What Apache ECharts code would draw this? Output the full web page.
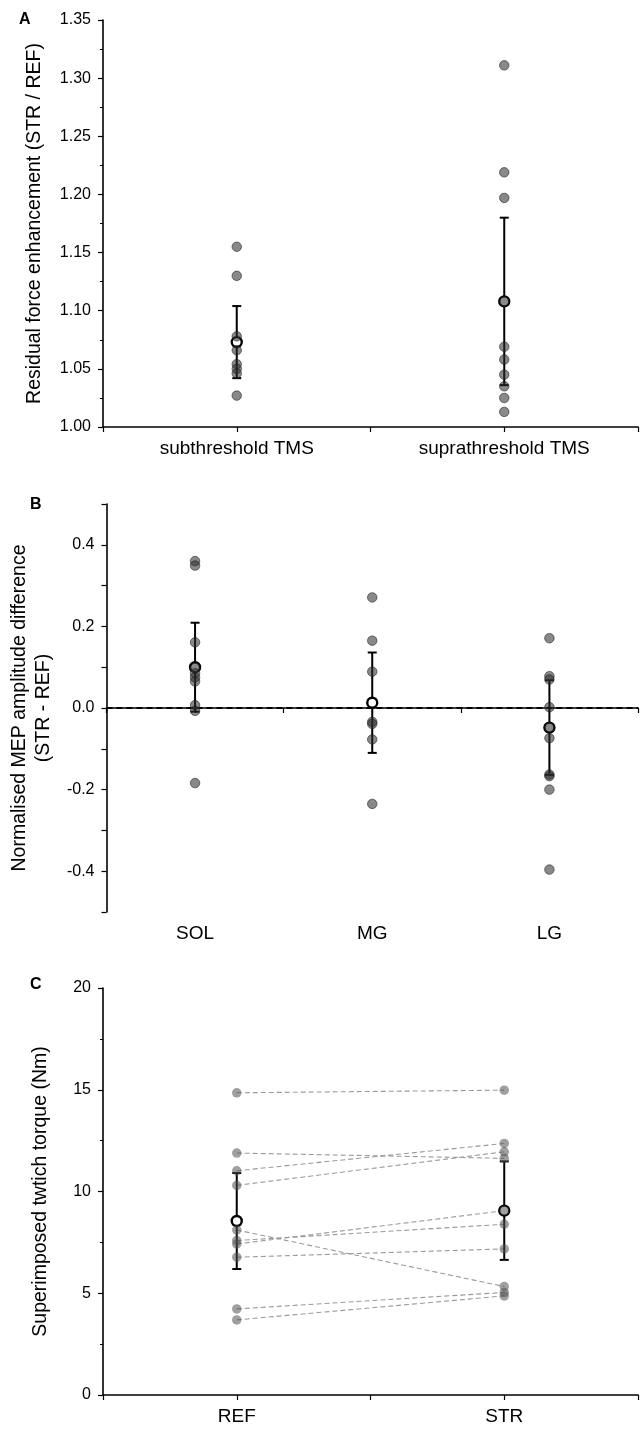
<!DOCTYPE html>
<html>
<head>
<meta charset="utf-8">
<script src="https://cdn.jsdelivr.net/npm/echarts@6/dist/echarts.min.js"></script>
<style>
  html, body { margin: 0; padding: 0; background: #fff; }
  #chart { width: 641px; height: 1429px; }
</style>
</head>
<body>
<div id="chart"></div>
<script>
// Panel A: residual force enhancement
const stimCats = ['subthreshold TMS', 'suprathreshold TMS'];
const subthresholdRFE = [1.155, 1.130, 1.078, 1.066, 1.054, 1.050, 1.046, 1.027];
const suprathresholdRFE = [1.311, 1.219, 1.197, 1.108, 1.069, 1.058, 1.045, 1.035, 1.025, 1.013];
const rfeMean = [1.073, 1.108];
const rfeSD = [0.031, 0.072];

// Panel B: normalised MEP amplitude difference
const muscleCats = ['SOL', 'MG', 'LG'];
const solDiff = [0.360, 0.349, 0.161, 0.098, 0.085, 0.075, 0.065, 0.007, -0.007, -0.184];
const mgDiff = [0.271, 0.165, 0.089, -0.034, -0.039, -0.077, -0.235];
const lgDiff = [0.171, 0.078, 0.070, 0.002, -0.048, -0.074, -0.163, -0.167, -0.200, -0.396];
const mepMean = [0.100, 0.013, -0.048];
const mepSD = [0.109, 0.123, 0.116];
const zeroLevel = 0;

// Panel C: superimposed twitch torque, paired REF / STR
const condCats = ['REF', 'STR'];
const refTorque = [14.85, 11.89, 11.02, 10.30, 8.11, 7.59, 7.42, 6.77, 4.23, 3.69];
const strTorque = [14.98, 11.63, 12.36, 11.95, 5.33, 8.39, 9.06, 7.18, 5.04, 4.87];
const torqueMean = [8.55, 9.06];
const torqueSD = [2.36, 2.42];

const FONT = 'Liberation Sans, Arial, sans-serif';
const TICK_FONT = 16;
const TITLE_FONT = 19.5;

function xAxisFor(gridIndex, cats) {
  return {
    type: 'value', gridIndex: gridIndex,
    min: 0.5, max: cats.length + 0.5, interval: 0.5,
    splitLine: { show: false },
    axisLine: { lineStyle: { color: '#000', width: 1.6 } },
    axisTick: { show: true, length: 5, lineStyle: { color: '#000', width: 1.2 } },
    axisLabel: {
      margin: 12, color: '#000', fontSize: 19, fontFamily: FONT,
      formatter: function (v) {
        return Number.isInteger(v) && v >= 1 && v <= cats.length ? cats[v - 1] : '';
      }
    }
  };
}

function yAxisFor(gridIndex, opts) {
  return Object.assign({
    type: 'value', gridIndex: gridIndex,
    splitLine: { show: false },
    axisLine: { show: true, lineStyle: { color: '#000', width: 1.6 } },
    axisTick: { show: true, length: 5, lineStyle: { color: '#000', width: 1.2 } },
    nameLocation: 'middle',
    nameTextStyle: { color: '#000', fontSize: TITLE_FONT, fontFamily: FONT },
  }, opts);
}

function groupPoints(groups) {
  const out = [];
  groups.forEach(function (vals, i) {
    vals.forEach(function (v) { out.push([i + 1, v]); });
  });
  return out;
}

function meanData(means) {
  return means.map(function (m, i) { return [i + 1, m]; });
}

function errData(means, sds) {
  return means.map(function (m, i) { return [i + 1, m, sds[i]]; });
}

function errorBarSeries(idx, data) {
  return {
    type: 'custom', xAxisIndex: idx, yAxisIndex: idx, z: 3,
    data: data,
    renderItem: function (params, api) {
      const x = api.value(0), m = api.value(1), s = api.value(2);
      const top = api.coord([x, m + s]);
      const bot = api.coord([x, m - s]);
      const half = 4.5;
      const style = { stroke: '#000', lineWidth: 2 };
      return {
        type: 'group',
        children: [
          { type: 'line', shape: { x1: top[0], y1: top[1], x2: bot[0], y2: bot[1] }, style: style },
          { type: 'line', shape: { x1: top[0] - half, y1: top[1], x2: top[0] + half, y2: top[1] }, style: style },
          { type: 'line', shape: { x1: bot[0] - half, y1: bot[1], x2: bot[0] + half, y2: bot[1] }, style: style }
        ]
      };
    }
  };
}

function meanSeries(idx, data) {
  return {
    type: 'scatter', xAxisIndex: idx, yAxisIndex: idx, z: 4,
    symbol: 'circle', symbolSize: 10,
    itemStyle: { color: '#fff', borderColor: '#000', borderWidth: 2.4, opacity: 1 },
    data: data
  };
}

function pointSeries(idx, data, style, size, extra) {
  return Object.assign({
    type: 'scatter', xAxisIndex: idx, yAxisIndex: idx, z: 5,
    symbol: 'circle', symbolSize: size,
    itemStyle: style,
    data: data
  }, extra || {});
}

const darkPoint = { color: 'rgba(45,45,45,0.7)', borderColor: 'rgba(30,30,30,0.8)', borderWidth: 0.9 };
const lightPoint = { color: 'rgba(80,80,80,0.68)' };

// dashed connectors joining each participant's REF and STR values
const pairSeries = refTorque.map(function (r, i) {
  return {
    type: 'line', xAxisIndex: 2, yAxisIndex: 2, z: 2,
    symbol: 'none', silent: true,
    lineStyle: { color: '#9a9a9a', width: 1.1, type: [5, 3] },
    data: [[1, r], [2, strTorque[i]]]
  };
});

const option = {
  animation: false,
  backgroundColor: '#fff',
  textStyle: { fontFamily: FONT },
  grid: [
    { left: 103, top: 20, width: 548, height: 407 },
    { left: 103, top: 504, width: 546, height: 408 },
    { left: 103, top: 988, width: 548, height: 407 }
  ],
  xAxis: [
    xAxisFor(0, stimCats),
    xAxisFor(1, muscleCats),
    xAxisFor(2, condCats)
  ],
  yAxis: [
    yAxisFor(0, {
      min: 1.0, max: 1.35, interval: 0.05,
      minorTick: { show: true, splitNumber: 2, length: 3, lineStyle: { color: '#000', width: 1 } },
      axisLabel: { color: '#000', fontSize: TICK_FONT, fontFamily: FONT, margin: 12,
        formatter: function (v) { return v.toFixed(2); } },
      name: 'Residual force enhancement (STR / REF)', nameGap: 58
    }),
    yAxisFor(1, {
      min: -0.5, max: 0.5, interval: 0.1,
      axisLabel: { color: '#000', fontSize: TICK_FONT, fontFamily: FONT, margin: 12,
        formatter: function (v) {
          const k = Math.round(v * 10);
          return (k % 2 === 0 && Math.abs(k) <= 4) ? (k / 10).toFixed(1) : '';
        } },
      name: 'Normalised MEP amplitude difference\n(STR - REF)', nameGap: 44,
      nameTextStyle: { color: '#000', fontSize: TITLE_FONT, fontFamily: FONT, lineHeight: 24 }
    }),
    yAxisFor(2, {
      min: 0, max: 20, interval: 5,
      minorTick: { show: true, splitNumber: 2, length: 3, lineStyle: { color: '#000', width: 1 } },
      axisLabel: { color: '#000', fontSize: TICK_FONT, fontFamily: FONT, margin: 12 },
      name: 'Superimposed twtich torque (Nm)', nameGap: 52
    })
  ],
  graphic: [
    { type: 'text', left: 19, top: 12, style: { text: 'A', font: 'bold 16px ' + FONT, fill: '#000' } },
    { type: 'text', left: 30, top: 497, style: { text: 'B', font: 'bold 16px ' + FONT, fill: '#000' } },
    { type: 'text', left: 30, top: 977, style: { text: 'C', font: 'bold 16px ' + FONT, fill: '#000' } }
  ],
  series: [
    // A
    errorBarSeries(0, errData(rfeMean, rfeSD)),
    meanSeries(0, meanData(rfeMean)),
    pointSeries(0, groupPoints([subthresholdRFE, suprathresholdRFE]), darkPoint, 9.5),
    // B
    errorBarSeries(1, errData(mepMean, mepSD)),
    meanSeries(1, meanData(mepMean)),
    pointSeries(1, groupPoints([solDiff, mgDiff, lgDiff]), darkPoint, 9.5, {
      markLine: {
        silent: true, symbol: ['none', 'none'], label: { show: false },
        lineStyle: { color: '#000', width: 2, type: [6, 4] },
        data: [{ yAxis: zeroLevel }]
      }
    }),
    // C
    ...pairSeries,
    errorBarSeries(2, errData(torqueMean, torqueSD)),
    meanSeries(2, meanData(torqueMean)),
    pointSeries(2, groupPoints([refTorque, strTorque]), lightPoint, 9.5)
  ]
};

const chart = echarts.init(document.getElementById('chart'), null, { renderer: 'canvas' });
chart.setOption(option);
</script>
</body>
</html>
